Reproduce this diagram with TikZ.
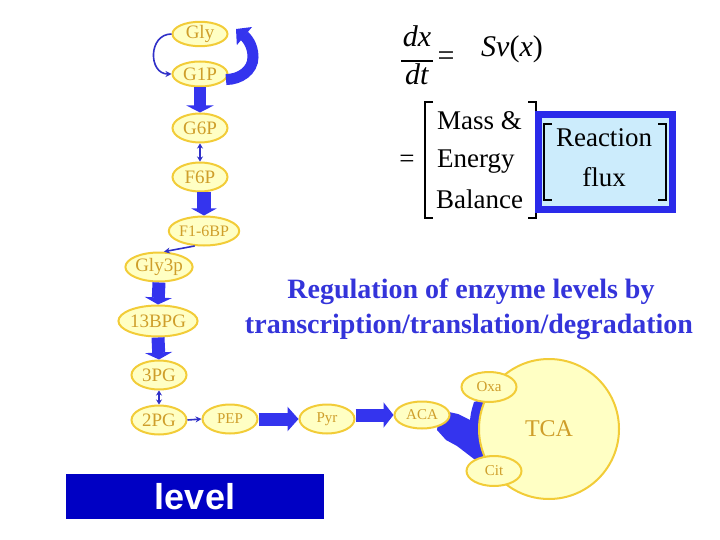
\documentclass[tikz,border=0pt]{standalone}
\usepackage{fontspec}
\setmainfont{Liberation Serif}
\newfontfamily\arialfont{Liberation Sans}
\usetikzlibrary{shapes.geometric,arrows.meta}
\definecolor{nodefill}{HTML}{FFFFC4}
\definecolor{nodedraw}{HTML}{F2CC38}
\definecolor{nodetext}{HTML}{CF9E2A}
\definecolor{arrowblue}{HTML}{3434EE}
\definecolor{thinblue}{HTML}{3030C8}
\definecolor{regblue}{HTML}{3434DA}
\definecolor{levelblue}{HTML}{0000C4}
\definecolor{boxblue}{HTML}{2A2AEA}
\definecolor{boxfill}{HTML}{CCECFC}
\tikzset{
  met/.style={ellipse,draw=nodedraw,fill=nodefill,line width=2pt,inner sep=0pt,
    text=nodetext,minimum width=55pt,minimum height=29pt,font=\fontsize{19}{19}\selectfont},
  smet/.style={met,font=\fontsize{15}{15}\selectfont},
  blkv/.style={draw=arrowblue,line width=13pt,-{Triangle[length=7pt,width=27pt]}},
  blkh/.style={draw=arrowblue,line width=13pt,-{Triangle[length=11pt,width=24pt]}},
  thinarr/.style={draw=thinblue,line width=1.6pt,-{Stealth[length=6pt,width=6pt]}},
  dblarr/.style={draw=thinblue,line width=1.8pt,{Stealth[length=5pt,width=6pt]}-{Stealth[length=5pt,width=6pt]}},
  eqtext/.style={font=\fontsize{27}{27}\selectfont,inner sep=0pt},
  bigeq/.style={font=\fontsize{30}{30}\selectfont,inner sep=0pt},
  regtext/.style={font=\fontsize{28}{28}\selectfont\bfseries,text=regblue,anchor=base,inner sep=0pt},
  brk/.style={draw=black,line width=1.6pt},
}
\begin{document}
\begin{tikzpicture}[x=1pt,y=-1pt]
\useasboundingbox (0,0) rectangle (720,540);
% metabolites
\node[met,minimum height=24pt] (Gly) at (200,34) {Gly};
\node[met,minimum height=25pt] (G1P) at (200,74) {G1P};
\node[met] (G6P) at (200,128) {G6P};
\node[met] (F6P) at (200,177) {F6P};
\node[met,font=\fontsize{16}{16}\selectfont] (F16BP) at (204,231) {F1-6BP};
\node[met] (Gly3p) at (159,267) {Gly3p};
\node[met,minimum height=31pt] (BPG) at (158,321) {13BPG};
\node[met] (PG3) at (159,375) {3PG};
\node[met] (PG2) at (159,420) {2PG};
\node[smet] (PEP) at (230,419) {PEP};
\node[smet] (Pyr) at (327,419) {Pyr};
% blob ACA -> Oxa / Cit
\fill[arrowblue] (440,410) -- (458,414) -- (470,420) .. controls (471,412) .. (474,402)
  -- (488,398) -- (488,462) -- (474,459) .. controls (466,452) .. (457,446)
  -- (446,440) -- (437,430) -- cycle;
\node[met,circle,minimum size=140pt,font=\fontsize{24}{24}\selectfont] (TCA) at (549,429) {TCA};
\node[smet,minimum height=30pt] (Oxa) at (489,387) {Oxa};
\node[smet,minimum height=30pt] (Cit) at (494,471) {Cit};
\node[smet,minimum height=27pt] (ACA) at (422,415) {ACA};
% connectors
\draw[thinarr] (Gly.west) to[out=180,in=180,looseness=1.5] (G1P.west);
\draw[draw=arrowblue,line width=11pt,-{Triangle[length=11pt,width=23pt]}]
  (G1P.-12) to[out=0,in=-90] (253,57) to[out=90,in=-40] (236,29);
\draw[blkv,line width=12pt] (G1P.south) -- (G6P.north);
\draw[dblarr] (G6P.south) -- (F6P.north);
\draw[blkv,line width=14pt,-{Triangle[length=7pt,width=25pt]}] (F16BP.north |- F6P.south) -- (F16BP.north);
\draw[thinarr] (F16BP.238) -- (Gly3p.72);
\draw[blkv] (Gly3p.south) -- (BPG.north);
\draw[blkv] (BPG.south) -- (PG3.north);
\draw[dblarr] (PG3.south) -- (PG2.north);
\draw[thinarr] (PG2.east) -- (PEP.west);
\draw[blkh] (PEP.east) -- (Pyr.west);
\draw[blkh,-{Triangle[length=10pt,width=25pt]}] (ACA.west -| Pyr.east) -- (ACA.west);
% equation
\node[bigeq,anchor=base] (dx) at (417,47) {\textit{dx}};
\node[bigeq,anchor=base] (dt) at (417,85) {\textit{dt}};
\draw[line width=1.2pt] (401,61) -- (433,61);
\node[bigeq] (eq1) at (446,59) {=};
\node[bigeq,anchor=base west] (Sv) at (481,57) {\textit{Sv}(\textit{x})};
\node[eqtext] (eq2) at (407,161) {=};
\draw[brk] (433,102) -- (425,102) -- (425,218) -- (433,218);
\draw[brk] (528,102) -- (536,102) -- (536,218) -- (528,218);
\node[eqtext,anchor=base west] (mass) at (437,130) {Mass \&};
\node[eqtext,anchor=base west] (energy) at (437,168) {Energy};
\node[eqtext,anchor=base west] (balance) at (436,208) {Balance};
\draw[draw=boxblue,fill=boxfill,line width=7pt] (538.5,114.5) rectangle (672.5,209.5);
\draw[brk] (552,124) -- (544,124) -- (544,200) -- (552,200);
\draw[brk] (658,124) -- (666,124) -- (666,200) -- (658,200);
\node[eqtext,anchor=base] (reaction) at (604,147) {Reaction};
\node[eqtext,anchor=base] (flux) at (604,187) {flux};
% regulation text
\node[regtext] (reg1) at (471,298) {Regulation of enzyme levels by};
\node[regtext] (reg2) at (469,333) {transcription/translation/degradation};
% level box
\node[fill=levelblue,minimum width=258pt,minimum height=45pt,inner sep=0pt,
  text=white,font=\arialfont\bfseries\fontsize{36}{36}\selectfont] (level) at (195,496.5) {level};
\end{tikzpicture}
\end{document}
